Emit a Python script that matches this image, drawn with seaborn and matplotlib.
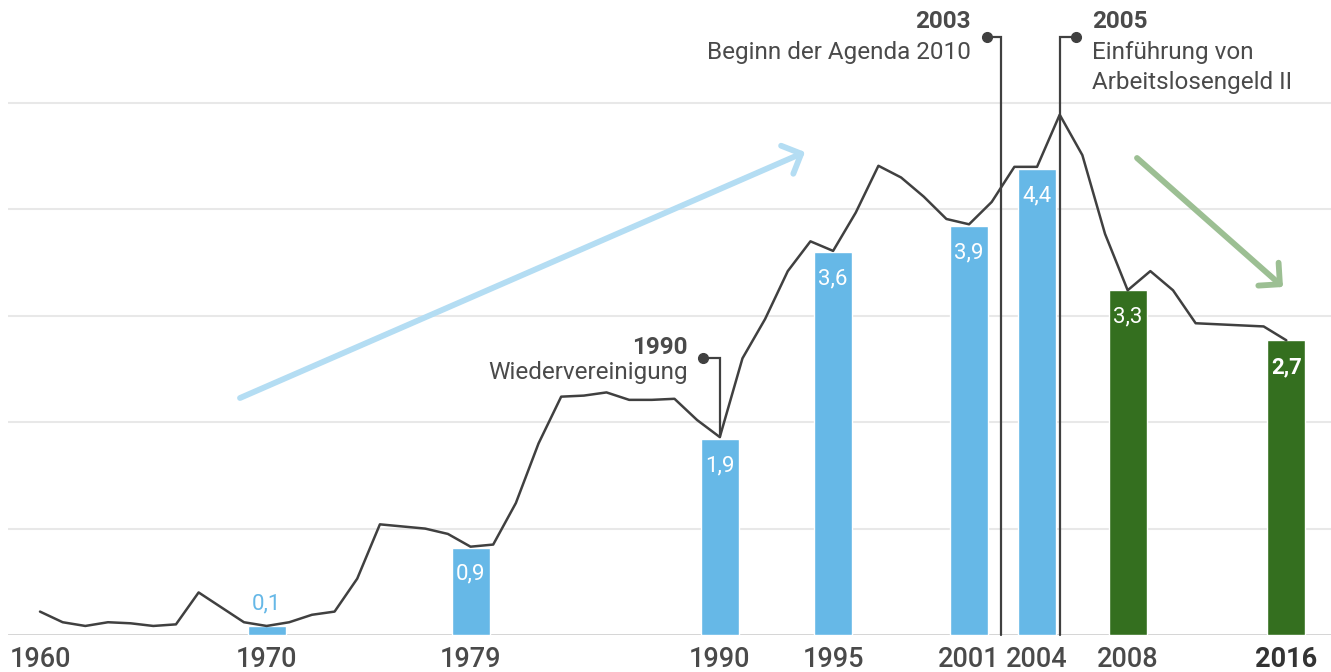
import matplotlib
matplotlib.use("Agg")
import matplotlib.pyplot as plt
import seaborn as sns
import pandas as pd
from matplotlib.patches import FancyArrowPatch, ArrowStyle

# ---------------- data ----------------
line_years = list(range(1960, 2016))
unemployed = [0.22, 0.12, 0.085, 0.12, 0.11, 0.085, 0.10, 0.40, 0.26, 0.12,
              0.085, 0.12, 0.19, 0.22, 0.53, 1.04, 1.02, 1.00, 0.95, 0.83,
              0.85, 1.24, 1.80, 2.24, 2.25, 2.28, 2.21, 2.21, 2.22, 2.02,
              1.86, 2.60, 2.97, 3.42, 3.70, 3.61, 3.97, 4.41, 4.30, 4.12,
              3.91, 3.86, 4.07, 4.40, 4.40, 4.89, 4.51, 3.77, 3.24, 3.42,
              3.24, 2.93, 2.92, 2.91, 2.90, 2.77]

bar_years = [1970, 1979, 1990, 1995, 2001, 2004, 2008, 2016]
bar_values = [0.08, 0.82, 1.84, 3.60, 3.84, 4.38, 3.24, 2.77]
bar_labels = ["0,1", "0,9", "1,9", "3,6", "3,9", "4,4", "3,3", "2,7"]
bar_phase = ["up", "up", "up", "up", "up", "up", "down", "down"]

tick_years = [1960, 1970, 1979, 1990, 1995, 2001, 2004, 2008, 2016]

ev_years = ["1990", "2003", "2005"]
ev_lines = [["Wiedervereinigung"], ["Beginn der Agenda 2010"],
            ["Einführung von", "Arbeitslosengeld II"]]

# ---------------- style ----------------
BLUE = "#66b8e7"
GREEN = "#346f1f"
DARK = "#404040"
TXT = "#4a4a4a"
FS = 17.5

sns.set_theme(style="white")
plt.rcParams["font.family"] = ["Roboto", "DejaVu Sans"]

W, H = 1331, 672
fig = plt.figure(figsize=(W / 100, H / 100), dpi=100)
px_per_year = 22.66
px_per_unit = 106.4
x0_px, base_px = 40, 635
ax = fig.add_axes([8 / W, (H - base_px) / H, (W - 8) / W, base_px / H])
ax.set_xlim(1960 - (x0_px - 8) / px_per_year, 1960 + (W - x0_px) / px_per_year)
ax.set_ylim(0, base_px / px_per_unit)

def xpx(px):
    return 1960 + (px - x0_px) / px_per_year

def ypx(py):
    return (base_px - py) / px_per_unit

last = line_years[-1]
bar_x = [min(y, last) for y in bar_years]
tick_x = [min(y, last) for y in tick_years]

# grid
ax.set_yticks([1, 2, 3, 4, 5])
ax.set_yticklabels([])
ax.yaxis.grid(True, color="#e8e8e8", linewidth=1.5)
ax.tick_params(axis="y", length=0)
for s in ax.spines.values():
    s.set_visible(False)
ax.axhline(0, color="#d2d2d2", linewidth=2, zorder=1)

# bars
dfb = pd.DataFrame({"x": bar_x, "v": bar_values, "phase": bar_phase})
min_gap = min(b - a for a, b in zip(sorted(bar_x)[:-1], sorted(bar_x)[1:]))
sns.barplot(data=dfb, x="x", y="v", hue="phase", native_scale=True,
            palette={"up": BLUE, "down": GREEN}, width=1.68 / min_gap,
            dodge=False, legend=False, saturation=1, ax=ax, zorder=2)

# line
dfl = pd.DataFrame({"year": line_years, "val": unemployed})
sns.lineplot(data=dfl, x="year", y="val", color=DARK, linewidth=1.8, ax=ax, zorder=3)

# bar labels
for x, v, lab, ph in zip(bar_x, bar_values, bar_labels, bar_phase):
    if v < 0.3:
        ax.text(x, v + 0.21, lab, ha="center", va="center", color=BLUE,
                fontsize=16, fontweight="normal", zorder=4)
    else:
        bold = (x == bar_x[-1])
        ax.text(x, v - 0.25, lab, ha="center", va="center", color="white",
                fontsize=16, fontweight="bold" if bold else "normal", zorder=4)

# x ticks
ax.set_xticks(tick_x)
ax.set_xticklabels(tick_years)
ax.tick_params(axis="x", length=0, pad=8)
for i, t in enumerate(ax.get_xticklabels()):
    t.set_fontsize(19.5)
    t.set_color(TXT)
    t.set_fontweight("medium")
    if i == len(tick_years) - 1:
        t.set_fontweight("bold")
        t.set_color("#333333")
ax.set_xlabel("")
ax.set_ylabel("")

# event annotations
def marker(xline, ybot, xdot, ytop):
    ax.plot([xdot, xline, xline], [ytop, ytop, ybot], color=DARK, lw=1.6,
            zorder=5, clip_on=False, solid_joinstyle="miter")
    ax.plot([xdot], [ytop], "o", color=DARK, ms=7, zorder=6, clip_on=False)

def label(xp, ha, year, lines, y0_px, step_px=30):
    ax.text(xpx(xp), ypx(y0_px), year, ha=ha, va="center", fontsize=FS,
            fontweight="bold", color=TXT, clip_on=False)
    for k, ln in enumerate(lines):
        ax.text(xpx(xp), ypx(y0_px + (k + 1) * step_px), ln, ha=ha, va="center",
                fontsize=FS, color=TXT, clip_on=False)

# 1990
marker(1990, unemployed[line_years.index(1990)], xpx(703), ypx(358))
label(688, "right", ev_years[0], ev_lines[0], 347, 25)
# 2003
marker(xpx(1001), 0, xpx(987), ypx(37))
label(971, "right", ev_years[1], ev_lines[1], 22)
# 2005
marker(2005, 0, xpx(1076), ypx(37))
label(1092, "left", ev_years[2], ev_lines[2], 22)

# trend arrows
def trend(p0, p1, color):
    a = FancyArrowPatch(p0, p1, arrowstyle=ArrowStyle("->", head_length=11, head_width=11),
                        color=color, lw=4.2, capstyle="round", joinstyle="round",
                        mutation_scale=1, zorder=4, shrinkA=0, shrinkB=0)
    ax.add_patch(a)

trend((xpx(240), ypx(398)), (xpx(805), ypx(152)), "#b4ddf3")
trend((xpx(1137), ypx(158)), (xpx(1283), ypx(287)), "#9cbf93")

fig.savefig("out.png", dpi=100)
